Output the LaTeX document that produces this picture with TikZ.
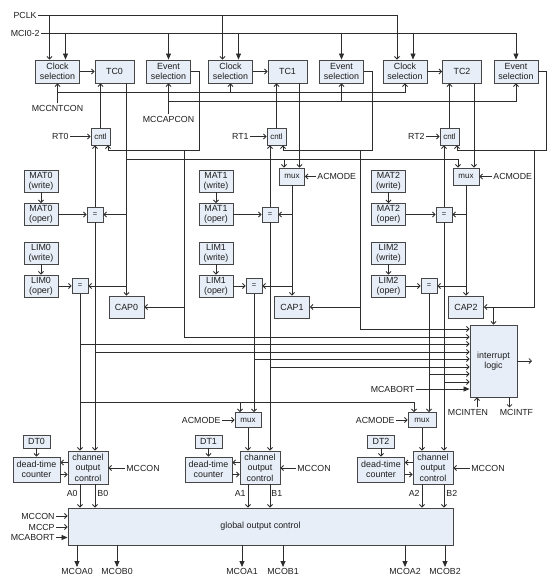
\documentclass[tikz,border=0pt]{standalone}
\usepackage{fontspec}
\setmainfont{Liberation Sans}
\usetikzlibrary{arrows.meta}

\definecolor{boxfill}{RGB}{231,238,247}
\definecolor{boxline}{RGB}{70,70,70}
\definecolor{wirecol}{RGB}{45,45,45}
\definecolor{txtcol}{RGB}{30,30,30}

\tikzset{
  blk/.style={draw=boxline, fill=boxfill, line width=0.9pt, inner sep=0pt, align=center,
    text=txtcol, font=\fontsize{8.9}{10}\selectfont},
  selbox/.style={blk, minimum width=44pt, minimum height=23pt},
  tcbox/.style={blk, minimum width=39pt, minimum height=23pt},
  regbox/.style={blk, minimum width=34pt, minimum height=22pt},
  capbox/.style={blk, minimum width=35pt, minimum height=22pt},
  eqbox/.style={blk, minimum width=16pt, minimum height=15pt, font=\fontsize{7.5}{8}\selectfont},
  smallbox/.style={blk, minimum height=17pt, font=\fontsize{8}{8}\selectfont},
  chbox/.style={blk, minimum width=40pt, minimum height=33pt, font=\fontsize{8.9}{10.5}\selectfont},
  dtbox/.style={blk, minimum width=47pt, minimum height=25pt},
  dtlab/.style={blk, minimum width=27pt, minimum height=13pt},
  lbl/.style={inner sep=1pt, text=txtcol, font=\fontsize{8.8}{9}\selectfont},
  sig/.style={-{Straight Barb[length=2.5pt,width=5pt]}},
  bus/.style={-{Triangle[length=6pt,width=5pt]}}
}

\begin{document}
\begin{tikzpicture}[x=1pt,y=-1pt,line width=0.8pt,color=wirecol]

\useasboundingbox (0,0) rectangle (554,584);

\coordinate (cntbus) at (0,92);
\coordinate (capbus) at (0,101);
\coordinate (tcbus) at (0,159);
\coordinate (limbus) at (0,402);
\coordinate (ev0) at (199,150);
\coordinate (ev0b) at (184,150);
\coordinate (ev1) at (372,150);
\coordinate (ev1b) at (360,150);
\coordinate (ev2) at (546,150);
\coordinate (ev2b) at (534,150);
\coordinate (irqout) at (532,361);

% timers
\node[lbl, anchor=east] (pclk) at (38,15) {PCLK};
\node[lbl, anchor=east] (mci) at (41,33) {MCI0-2};

\node[selbox] (clk0) at (57.5,71.5) {Clock\\selection};
\node[tcbox]  (tc0)  at (114.5,71.5) {TC0};
\node[selbox] (evt0) at (168.5,71.5) {Event\\selection};
\node[selbox] (clk1) at (230.5,71.5) {Clock\\selection};
\node[tcbox]  (tc1)  at (287.5,71.5) {TC1};
\node[selbox] (evt1) at (341.5,71.5) {Event\\selection};
\node[selbox] (clk2) at (405,71.5) {Clock\\selection};
\node[tcbox]  (tc2)  at (462,71.5) {TC2};
\node[selbox] (evt2) at (516,71.5) {Event\\selection};

\node[lbl] (mccnt) at (57.5,108) {MCCNTCON};
\node[lbl] (mccap) at (168.5,119) {MCCAPCON};

\node[lbl, anchor=east] (rt0) at (70,136.5) {RT0};
\node[smallbox, minimum width=19pt] (cntl0) at (100.5,136.5) {cntl};
\node[lbl, anchor=east] (rt1) at (250,136.5) {RT1};
\node[smallbox, minimum width=19pt] (cntl1) at (276.5,136.5) {cntl};
\node[lbl, anchor=east] (rt2) at (426,136.5) {RT2};
\node[smallbox, minimum width=19pt] (cntl2) at (449.5,136.5) {cntl};

\node[smallbox, minimum width=25pt] (mux1) at (292,176.5) {mux};
\node[lbl, anchor=west] (acm1) at (316,176.5) {ACMODE};
\node[smallbox, minimum width=26pt] (mux2) at (466,176.5) {mux};
\node[lbl, anchor=west] (acm2) at (492,176.5) {ACMODE};

% match / limit registers
\node[regbox] (matw0) at (41,181) {MAT0\\(write)};
\node[regbox] (mato0) at (41,214.5) {MAT0\\(oper)};
\node[regbox] (limw0) at (41,253) {LIM0\\(write)};
\node[regbox] (limo0) at (41,286) {LIM0\\(oper)};
\node[eqbox] (eqm0) at (95,214.5) {=};
\node[eqbox] (eql0) at (80,286) {=};
\node[capbox] (cap0) at (126.5,307) {CAP0};

\node[regbox] (matw1) at (216,181) {MAT1\\(write)};
\node[regbox] (mato1) at (216,214.5) {MAT1\\(oper)};
\node[regbox] (limw1) at (216,253) {LIM1\\(write)};
\node[regbox] (limo1) at (216,286) {LIM1\\(oper)};
\node[eqbox] (eqm1) at (270,214.5) {=};
\node[eqbox] (eql1) at (254,286) {=};
\node[capbox] (cap1) at (292,307) {CAP1};

\node[regbox] (matw2) at (388.5,181) {MAT2\\(write)};
\node[regbox] (mato2) at (388.5,214.5) {MAT2\\(oper)};
\node[regbox] (limw2) at (388.5,253) {LIM2\\(write)};
\node[regbox] (limo2) at (388.5,286) {LIM2\\(oper)};
\node[eqbox] (eqm2) at (444,214.5) {=};
\node[eqbox] (eql2) at (429,286) {=};
\node[capbox] (cap2) at (466,307) {CAP2};

% interrupts
\node[blk, minimum width=47pt, minimum height=72pt] (irq) at (493.5,361) {interrupt\\logic};
\node[lbl, anchor=east] (iab) at (416,389) {MCABORT};
\node[lbl] (ien) at (468,412) {MCINTEN};
\node[lbl] (ift) at (516.5,412) {MCINTF};

\coordinate (in1) at (irq.west |- 0,329);
\coordinate (in2) at (irq.west |- 0,337);
\coordinate (in3) at (irq.west |- 0,344);
\coordinate (in4) at (irq.west |- 0,352);
\coordinate (in5) at (irq.west |- 0,359);
\coordinate (in6) at (irq.west |- 0,367);
\coordinate (in7) at (irq.west |- 0,374);
\coordinate (in8) at (irq.west |- 0,382);

% outputs
\node[smallbox, minimum width=26pt, minimum height=15pt] (mux3) at (248,420) {mux};
\node[lbl, anchor=east] (acm3) at (222,420) {ACMODE};
\node[smallbox, minimum width=28pt, minimum height=15pt] (mux4) at (422,420) {mux};
\node[lbl, anchor=east] (acm4) at (396,420) {ACMODE};

\node[chbox] (ch0) at (88,467.5) {channel\\output\\control};
\node[dtbox] (dtc0) at (36.5,469.5) {dead-time\\counter};
\node[dtlab] (dt0) at (36.5,441.5) {DT0};
\node[lbl, anchor=west] (con0) at (125,468) {MCCON};
\node[chbox] (ch1) at (260,467.5) {channel\\output\\control};
\node[dtbox] (dtc1) at (208.5,469.5) {dead-time\\counter};
\node[dtlab] (dt1) at (208.5,441.5) {DT1};
\node[lbl, anchor=west] (con1) at (296,468) {MCCON};
\node[chbox] (ch2) at (433,467.5) {channel\\output\\control};
\node[dtbox] (dtc2) at (381,469.5) {dead-time\\counter};
\node[dtlab] (dt2) at (381,441.5) {DT2};
\node[lbl, anchor=west] (con2) at (470,468) {MCCON};

\node[lbl, anchor=east] (a0) at (79,493) {A0};
\node[lbl, anchor=west] (b0) at (96,493) {B0};
\node[lbl, anchor=east] (a1) at (247,493) {A1};
\node[lbl, anchor=west] (b1) at (270,493) {B1};
\node[lbl, anchor=east] (a2) at (421,493) {A2};
\node[lbl, anchor=west] (b2) at (445,493) {B2};

\node[blk, minimum width=385pt, minimum height=37pt] (glob) at (260.5,526.5) {global output control};
\node[lbl, anchor=east] (gcon) at (56,516) {MCCON};
\node[lbl, anchor=east] (gcp) at (56,527) {MCCP};
\node[lbl, anchor=east] (gab) at (56,537.5) {MCABORT};

\node[lbl, anchor=north] (oa0) at (77,567) {MCOA0};
\node[lbl, anchor=north] (ob0) at (117,567) {MCOB0};
\node[lbl, anchor=north] (oa1) at (242,567) {MCOA1};
\node[lbl, anchor=north] (ob1) at (283,567) {MCOB1};
\node[lbl, anchor=north] (oa2) at (405,567) {MCOA2};
\node[lbl, anchor=north] (ob2) at (445,567) {MCOB2};

% clock and capture inputs
\draw[sig] (pclk.east) -| ([xshift=-8pt]clk2.north);
\draw[sig] ([xshift=-8pt]clk0.north |- pclk.east) -- ([xshift=-8pt]clk0.north);
\draw[sig] ([xshift=-8pt]clk1.north |- pclk.east) -- ([xshift=-8pt]clk1.north);
\draw[bus] (mci.east) -| (evt2.north);
\draw[bus] ([xshift=8pt]clk0.north |- mci.east) -- ([xshift=8pt]clk0.north);
\draw[bus] ([xshift=8pt]clk1.north |- mci.east) -- ([xshift=8pt]clk1.north);
\draw[bus] ([xshift=8pt]clk2.north |- mci.east) -- ([xshift=8pt]clk2.north);
\draw[bus] (evt0.north |- mci.east) -- (evt0.north);
\draw[bus] (evt1.north |- mci.east) -- (evt1.north);

\draw[sig] (clk0) -- (tc0);
\draw[sig] (clk1) -- (tc1);
\draw[sig] (clk2) -- (tc2);

\draw[sig] (mccnt.north) -- (clk0.south);
\draw[sig] (mccnt.north |- cntbus) -| (clk2.south);
\draw[sig] (clk1.south |- cntbus) -- (clk1.south);
\draw[sig] (mccap.north) -- (evt0.south);
\draw[sig] (mccap.north |- capbus) -| (evt2.south);
\draw[sig] (evt1.south |- capbus) -- (evt1.south);

\draw[sig] (rt0.east) -- (cntl0.west);
\draw[sig] (rt1.east) -- (cntl1.west);
\draw[sig] (rt2.east) -- (cntl2.west);
\draw[sig] (cntl0.north) -- (cntl0.north |- tc0.south);
\draw[sig] (cntl1.north) -- (cntl1.north |- tc1.south);
\draw[sig] (cntl2.north) -- (cntl2.north |- tc2.south);

% event selection outputs
\draw[sig] (evt0.east) -| (ev0) -| ([xshift=7.5pt]cntl0.south);
\draw[sig] (ev0b) |- (cap0.east);
\draw[sig] (ev0b) |- (in2);
\draw[sig] (evt1.east) -| (ev1) -| ([xshift=6.5pt]cntl1.south);
\draw[sig] (ev1b) |- (cap1.east);
\draw[sig] (ev1b) |- (in1);
\draw[sig] (evt2.east) -| (ev2) -| ([xshift=7.5pt]cntl2.south);
\draw[sig] (ev2b) |- (cap2.east);
\draw[sig] (cap2.east -| irq.north) -- (irq.north);

% counter values
\draw[sig] ([xshift=12pt]tc0.south) -- (cap0.north);
\draw[sig] (cap0.north |- tcbus) -| ([xshift=-8pt]mux2.north);
\draw[sig] ([xshift=-8pt]mux1.north |- tcbus) -- ([xshift=-8pt]mux1.north);
\draw[sig] ([xshift=12pt]tc1.south) -- ([xshift=12pt]tc1.south |- mux1.north);
\draw[sig] ([xshift=12pt]tc2.south) -- ([xshift=12pt]tc2.south |- mux2.north);
\draw[sig] (acm1.west) -- (mux1.east);
\draw[sig] (acm2.west) -- (mux2.east);
\draw[sig] (mux1.south) -- (cap1.north);
\draw[sig] (mux2.south) -- (cap2.north);

\draw[sig] (cap0.north |- eqm0.east) -- (eqm0.east);
\draw[sig] (cap0.north |- eql0.east) -- (eql0.east);
\draw[sig] (cap1.north |- eqm1.east) -- (eqm1.east);
\draw[sig] (cap1.north |- eql1.east) -- (eql1.east);
\draw[sig] (cap2.north |- eqm2.east) -- (eqm2.east);
\draw[sig] (cap2.north |- eql2.east) -- (eql2.east);

\draw[sig] (matw0) -- (mato0);
\draw[sig] (limw0) -- (limo0);
\draw[sig] (mato0) -- (eqm0);
\draw[sig] (limo0) -- (eql0);
\draw[sig] (matw1) -- (mato1);
\draw[sig] (limw1) -- (limo1);
\draw[sig] (mato1) -- (eqm1);
\draw[sig] (limo1) -- (eql1);
\draw[sig] (matw2) -- (mato2);
\draw[sig] (limw2) -- (limo2);
\draw[sig] (mato2) -- (eqm2);
\draw[sig] (limo2) -- (eql2);

% compare outputs
\draw[sig] (eqm0.north) -- (eqm0.north |- cntl0.south);
\draw[sig] (eqm0.south) -- (eqm0.south |- ch0.north);
\draw[sig] (eqm0.south |- in4) -- (in4);
\draw[sig] (eql0.south) -- (eql0.south |- ch0.north);
\draw[sig] (eql0.south |- in3) -- (in3);
\draw[sig] (eql0.south |- limbus) -| ([xshift=-8pt]mux4.north);
\draw[sig] ([xshift=-8pt]mux3.north |- limbus) -- ([xshift=-8pt]mux3.north);

\draw[sig] (eqm1.north) -- (eqm1.north |- cntl1.south);
\draw[sig] (eqm1.south) -- (eqm1.south |- ch1.north);
\draw[sig] (eqm1.south |- in6) -- (in6);
\draw[sig] (eql1.south) -- (eql1.south |- mux3.north);
\draw[sig] (eql1.south |- in5) -- (in5);

\draw[sig] (eqm2.north) -- (eqm2.north |- cntl2.south);
\draw[sig] (eqm2.south) -- (eqm2.south |- ch2.north);
\draw[sig] (eqm2.south |- in8) -- (in8);
\draw[sig] (eql2.south) -- (eql2.south |- mux4.north);
\draw[sig] (eql2.south |- in7) -- (in7);

\draw[sig] (irq.east) -- (irqout);
\draw[bus] (iab.east) -- (iab.east -| irq.west);
\draw[sig] ([xshift=9pt]ien.north) -- ([xshift=9pt]ien.north |- irq.south);
\draw[sig] ([xshift=-7pt]ift.north |- irq.south) -- ([xshift=-7pt]ift.north);

% channels
\draw[sig] (acm3.east) -- (mux3.west);
\draw[sig] (acm4.east) -- (mux4.west);
\draw[sig] (mux3.south) -- (mux3.south |- ch1.north);
\draw[sig] (mux4.south) -- (mux4.south |- ch2.north);

\draw[sig] (dt0) -- (dtc0);
\draw[sig] (dt1) -- (dtc1);
\draw[sig] (dt2) -- (dtc2);
\draw[sig] ([yshift=5pt]ch0.west) -- ([yshift=5pt]ch0.west -| dtc0.east);
\draw[sig] ([yshift=-5pt]dtc0.east) -- ([yshift=-5pt]dtc0.east -| ch0.west);
\draw[sig] ([yshift=5pt]ch1.west) -- ([yshift=5pt]ch1.west -| dtc1.east);
\draw[sig] ([yshift=-5pt]dtc1.east) -- ([yshift=-5pt]dtc1.east -| ch1.west);
\draw[sig] ([yshift=5pt]ch2.west) -- ([yshift=5pt]ch2.west -| dtc2.east);
\draw[sig] ([yshift=-5pt]dtc2.east) -- ([yshift=-5pt]dtc2.east -| ch2.west);
\draw[sig] (con0.west) -- (con0.west -| ch0.east);
\draw[sig] (con1.west) -- (con1.west -| ch1.east);
\draw[sig] (con2.west) -- (con2.west -| ch2.east);

\draw[sig] ([xshift=-8pt]ch0.south) -- ([xshift=-8pt]ch0.south |- glob.north);
\draw[sig] ([xshift=7pt]ch0.south) -- ([xshift=7pt]ch0.south |- glob.north);
\draw[sig] ([xshift=-12pt]ch1.south) -- ([xshift=-12pt]ch1.south |- glob.north);
\draw[sig] ([xshift=10pt]ch1.south) -- ([xshift=10pt]ch1.south |- glob.north);
\draw[sig] ([xshift=-11pt]ch2.south) -- ([xshift=-11pt]ch2.south |- glob.north);
\draw[sig] ([xshift=11pt]ch2.south) -- ([xshift=11pt]ch2.south |- glob.north);

\draw[sig] (gcon.east) -- (gcon.east -| glob.west);
\draw[sig] (gcp.east) -- (gcp.east -| glob.west);
\draw[bus] (gab.east) -- (gab.east -| glob.west);

\draw[bus] (oa0.north |- glob.south) -- (oa0.north);
\draw[bus] (ob0.north |- glob.south) -- (ob0.north);
\draw[bus] (oa1.north |- glob.south) -- (oa1.north);
\draw[bus] (ob1.north |- glob.south) -- (ob1.north);
\draw[bus] (oa2.north |- glob.south) -- (oa2.north);
\draw[bus] (ob2.north |- glob.south) -- (ob2.north);

\end{tikzpicture}
\end{document}
